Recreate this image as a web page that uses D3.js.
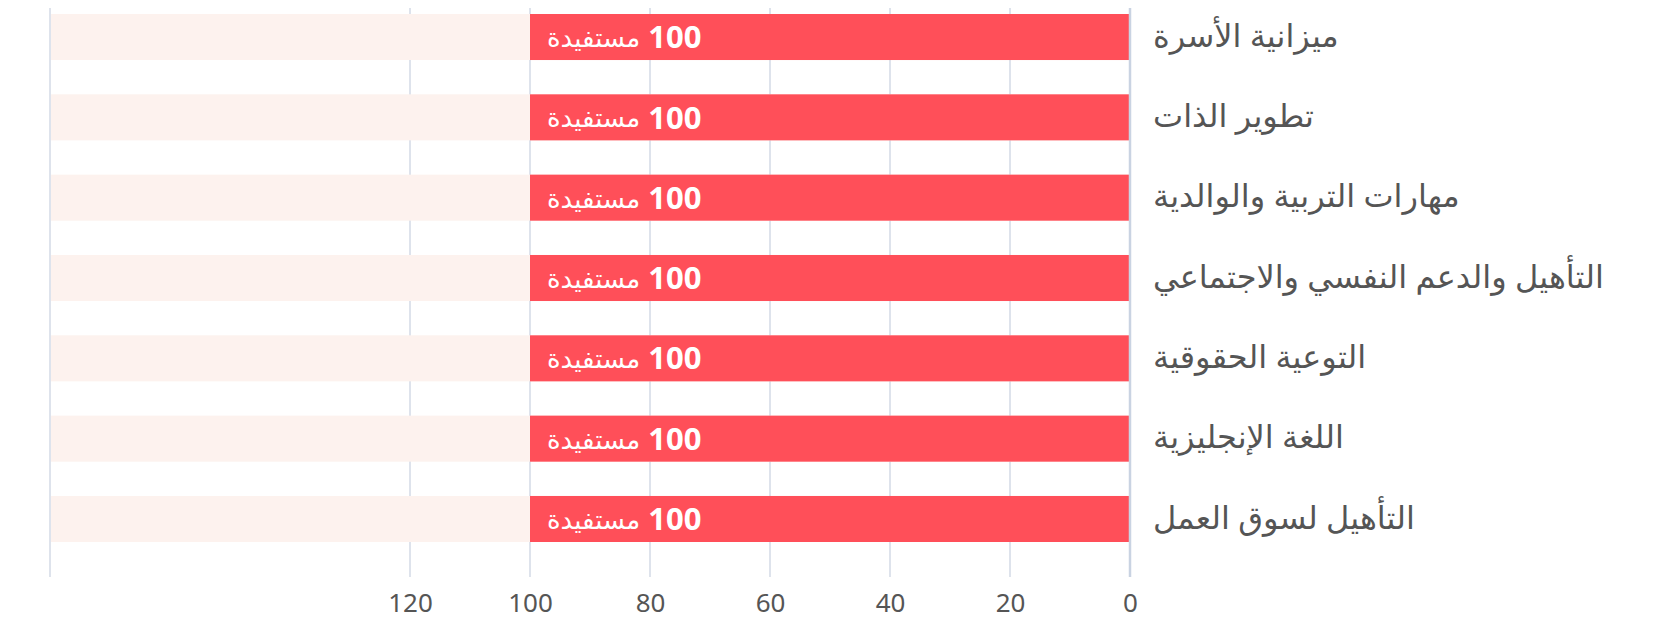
<!DOCTYPE html>
<html lang="ar">
<head>
    <meta charset="UTF-8">
    <title>المستفيدات حسب البرنامج</title>
    <script src="https://cdnjs.cloudflare.com/ajax/libs/d3/7.8.5/d3.min.js"></script>
    <style>
        body { margin: 0; background: #fff; }
        svg { display: block; font-family: "Noto Sans", "Open Sans", "DejaVu Sans", sans-serif; }
        .grid line { stroke: #d3dae6; stroke-width: 1.5px; }
        .zero-line { stroke: #c9d3e2; stroke-width: 2.5px; }
        .bg-bar { fill: #fdf2ee; }
        .bar { fill: #ff4f59; }
        .cat-label { fill: #555; font-size: 32px; }
        .tick text { fill: #555; font-size: 26px; font-family: "Noto Sans", "Open Sans", sans-serif; }
        .bar-unit { fill: #fff; font-size: 26px; }
        .bar-num { fill: #fff; font-size: 31px; font-weight: bold; font-family: "Noto Sans", "Open Sans", sans-serif; }
    </style>
</head>
<body>
    <svg id="chart"></svg>

    <script>
        // data
        const categories = [
            "ميزانية الأسرة",
            "تطوير الذات",
            "مهارات التربية والوالدية",
            "التأهيل والدعم النفسي والاجتماعي",
            "التوعية الحقوقية",
            "اللغة الإنجليزية",
            "التأهيل لسوق العمل"
        ];
        const values = [100, 100, 100, 100, 100, 100, 100];
        const axisMax = 180;
        const tickValues = [0, 20, 40, 60, 80, 100, 120];
        const unitLabel = "مستفيدة";

        const width = 1665, height = 635;
        const plotLeft = 50, plotRight = 1130;
        const plotTop = 8, plotBottom = 577;

        const svg = d3.select("#chart").attr("width", width).attr("height", height);

        // reversed axis: 0 on the right
        const x = d3.scaleLinear().domain([0, axisMax]).range([plotRight, plotLeft]);
        const y = d3.scaleBand().domain(categories).range([14, 542])
            .paddingInner(0.427).paddingOuter(0);

        // grid
        svg.append("g").attr("class", "grid")
            .selectAll("line")
            .data(tickValues.filter(d => d > 0).concat([axisMax]))
            .enter().append("line")
            .attr("x1", d => x(d)).attr("x2", d => x(d))
            .attr("y1", plotTop).attr("y2", plotBottom);

        const rows = categories.map((c, i) => ({ cat: c, value: values[i] }));

        // light track for the whole range
        svg.selectAll(".bg-bar").data(rows).enter().append("rect")
            .attr("class", "bg-bar")
            .attr("x", x(axisMax) + 1)
            .attr("width", x(0) - x(axisMax) - 1)
            .attr("y", d => y(d.cat))
            .attr("height", y.bandwidth());

        svg.selectAll(".bar").data(rows).enter().append("rect")
            .attr("class", "bar")
            .attr("x", d => x(d.value))
            .attr("width", d => x(0) - x(d.value))
            .attr("y", d => y(d.cat))
            .attr("height", y.bandwidth());

        svg.append("line").attr("class", "zero-line")
            .attr("x1", x(0)).attr("x2", x(0))
            .attr("y1", plotTop).attr("y2", plotBottom);

        // value labels inside bars: unit word on the left, bold number after it
        rows.forEach(d => {
            const cy = y(d.cat) + y.bandwidth() / 2;
            const unit = svg.append("text")
                .attr("class", "bar-unit")
                .attr("x", x(d.value) + 17)
                .attr("y", cy)
                .attr("dy", "0.38em")
                .text(unitLabel);
            const w = unit.node().getComputedTextLength();
            svg.append("text")
                .attr("class", "bar-num")
                .attr("x", x(d.value) + 17 + w + 8)
                .attr("y", cy)
                .attr("dy", "0.36em")
                .text(d.value);
        });

        // category labels
        svg.selectAll(".cat-label").data(rows).enter().append("text")
            .attr("class", "cat-label")
            .attr("direction", "rtl")
            .attr("text-anchor", "end")
            .attr("x", plotRight + 23)
            .attr("y", d => y(d.cat) + y.bandwidth() / 2)
            .attr("dy", "0.3em")
            .text(d => d.cat);

        // x axis labels
        const axis = d3.axisBottom(x).tickValues(tickValues).tickSize(0).tickPadding(0);
        const ag = svg.append("g").attr("transform", `translate(0, ${plotBottom + 17})`).call(axis);
        ag.attr("font-family", null).attr("font-size", null);
        ag.select(".domain").remove();
    </script>
</body>
</html>
